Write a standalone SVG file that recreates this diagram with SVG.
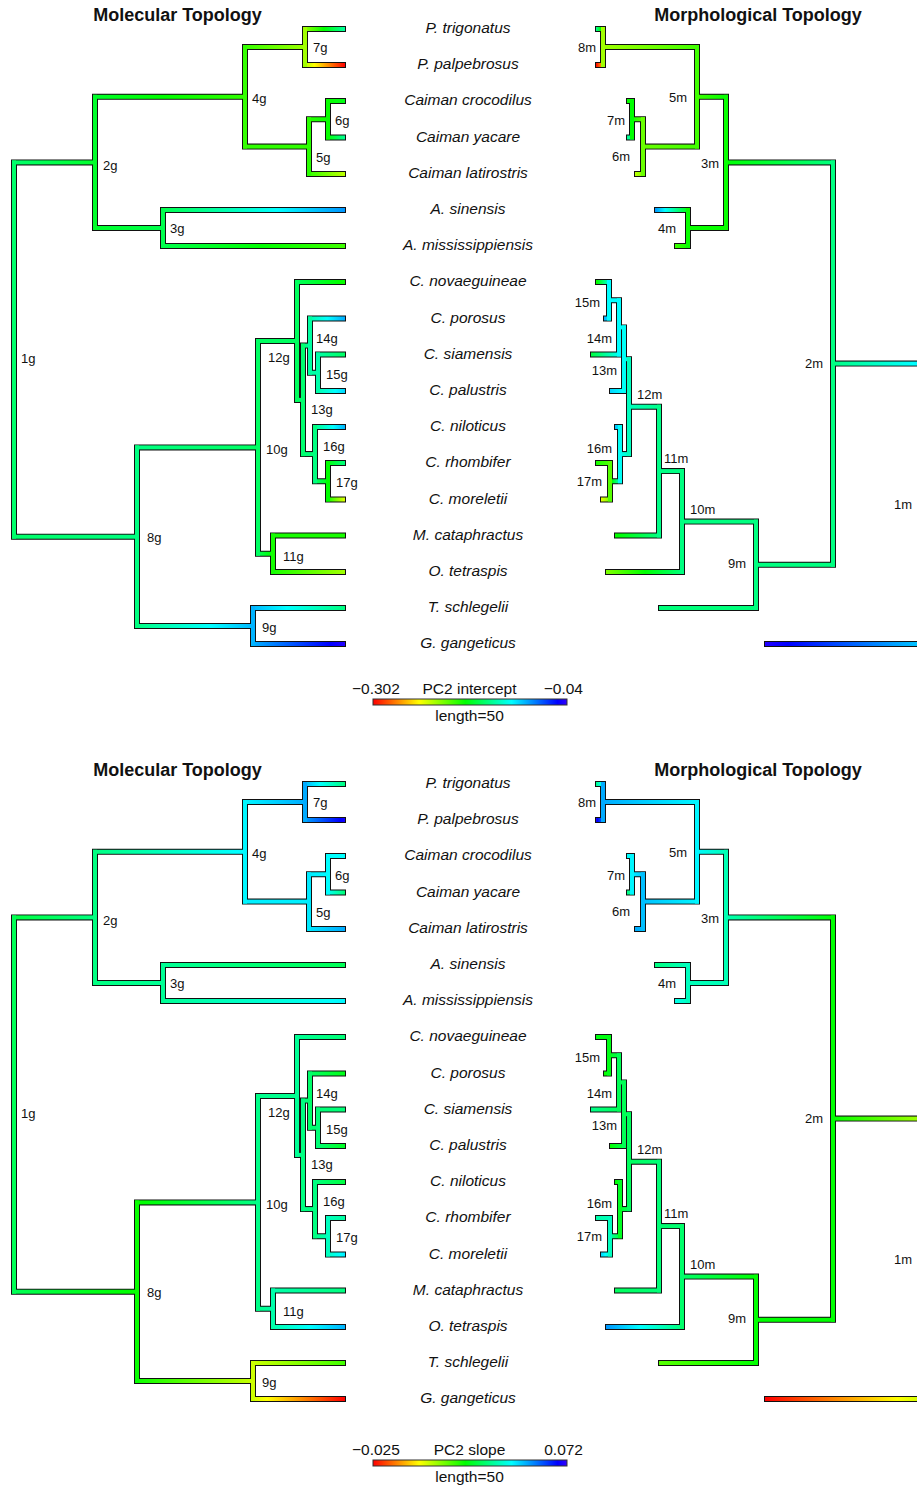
<svg xmlns="http://www.w3.org/2000/svg" xmlns:xlink="http://www.w3.org/1999/xlink" width="917" height="1487" viewBox="0 0 917 1487">
<style>
.o{fill:none;stroke:#111;stroke-width:6;stroke-linecap:square}
text{font-family:"Liberation Sans",Arial,Helvetica,sans-serif;fill:#111}
.sp{font-size:15.5px;font-style:italic;text-anchor:middle}
.nl{font-size:13px}
.ne{font-size:13px;text-anchor:end}
.ti{font-size:18px;font-weight:bold;text-anchor:middle}
.lg{font-size:15.5px}
.mid{text-anchor:middle}
.end{text-anchor:end}
</style>
<defs>
<linearGradient id="rb"><stop stop-color="#ff0000"/><stop offset=".238" stop-color="#ffff00"/><stop offset=".476" stop-color="#00ff00"/><stop offset=".714" stop-color="#00ffff"/><stop offset=".952" stop-color="#0000ff"/><stop offset="1" stop-color="#3300ff"/></linearGradient>
<linearGradient id="A1"><stop stop-color="#00ff6a"/><stop offset="1" stop-color="#00ff2a"/></linearGradient>
<linearGradient id="A2"><stop stop-color="#00ff2a"/><stop offset=".45" stop-color="#00ff00"/><stop offset="1" stop-color="#33ff00"/></linearGradient>
<linearGradient id="A3"><stop stop-color="#33ff00"/><stop offset="1" stop-color="#a1ff00"/></linearGradient>
<linearGradient id="A4"><stop stop-color="#a1ff00"/><stop offset=".5" stop-color="#00ff00"/><stop offset="1" stop-color="#00ffa1"/></linearGradient>
<linearGradient id="A5"><stop stop-color="#a1ff00"/><stop offset=".27" stop-color="#ffff00"/><stop offset="1" stop-color="#ff0000"/></linearGradient>
<linearGradient id="A7"><stop stop-color="#2aff00"/><stop offset="1" stop-color="#08ff00"/></linearGradient>
<linearGradient id="A8"><stop stop-color="#08ff00"/><stop offset="1" stop-color="#00ff15"/></linearGradient>
<linearGradient id="A9"><stop stop-color="#08ff00"/><stop offset=".05" stop-color="#00ff00"/><stop offset="1" stop-color="#00ff95"/></linearGradient>
<linearGradient id="A10"><stop stop-color="#2aff00"/><stop offset="1" stop-color="#bfff00"/></linearGradient>
<linearGradient id="A11"><stop stop-color="#00ff2a"/><stop offset="1" stop-color="#00ff4d"/></linearGradient>
<linearGradient id="A12"><stop stop-color="#00ff4d"/><stop offset=".63" stop-color="#00ffff"/><stop offset="1" stop-color="#0095ff"/></linearGradient>
<linearGradient id="A13"><stop stop-color="#00ff4d"/><stop offset=".55" stop-color="#00ff00"/><stop offset="1" stop-color="#40ff00"/></linearGradient>
<linearGradient id="A14"><stop stop-color="#00ff6a"/><stop offset="1" stop-color="#00ff80"/></linearGradient>
<linearGradient id="A15"><stop stop-color="#00ff80"/><stop offset="1" stop-color="#00ff62"/></linearGradient>
<linearGradient id="A17"><stop stop-color="#00ff5d"/><stop offset=".88" stop-color="#00ff00"/><stop offset="1" stop-color="#0dff00"/></linearGradient>
<linearGradient id="A19"><stop stop-color="#00ff6e"/><stop offset="1" stop-color="#00ffa1"/></linearGradient>
<linearGradient id="A20"><stop stop-color="#00ffa1"/><stop offset=".52" stop-color="#00ffff"/><stop offset="1" stop-color="#00aaff"/></linearGradient>
<linearGradient id="A22"><stop stop-color="#00ffaa"/><stop offset="1" stop-color="#00ff62"/></linearGradient>
<linearGradient id="A23"><stop stop-color="#00ffaa"/><stop offset=".67" stop-color="#00ffff"/><stop offset="1" stop-color="#00d5ff"/></linearGradient>
<linearGradient id="A25"><stop stop-color="#00ff80"/><stop offset=".63" stop-color="#00ffff"/><stop offset="1" stop-color="#00b3ff"/></linearGradient>
<linearGradient id="A26"><stop stop-color="#00ff80"/><stop offset="1" stop-color="#00ff00"/></linearGradient>
<linearGradient id="A27"><stop stop-color="#00ff00"/><stop offset="1" stop-color="#00ff80"/></linearGradient>
<linearGradient id="A28"><stop stop-color="#00ff00"/><stop offset="1" stop-color="#e1ff00"/></linearGradient>
<linearGradient id="A29"><stop stop-color="#00ff62"/><stop offset=".82" stop-color="#00ff00"/><stop offset="1" stop-color="#15ff00"/></linearGradient>
<linearGradient id="A31"><stop stop-color="#15ff00"/><stop offset="1" stop-color="#a1ff00"/></linearGradient>
<linearGradient id="A32"><stop stop-color="#00ff80"/><stop offset=".63" stop-color="#00ffff"/><stop offset="1" stop-color="#00b3ff"/></linearGradient>
<linearGradient id="A33"><stop stop-color="#00b3ff"/><stop offset=".38" stop-color="#00ffff"/><stop offset="1" stop-color="#00ff80"/></linearGradient>
<linearGradient id="A34"><stop stop-color="#00b3ff"/><stop offset=".84" stop-color="#0000ff"/><stop offset="1" stop-color="#2200ff"/></linearGradient>
<linearGradient id="B1"><stop stop-color="#00ff80"/><stop offset=".83" stop-color="#00ffff"/><stop offset="1" stop-color="#00e6ff"/></linearGradient>
<linearGradient id="B2"><stop stop-color="#2200ff"/><stop offset=".14" stop-color="#0000ff"/><stop offset="1" stop-color="#00d5ff"/></linearGradient>
<linearGradient id="B3"><stop stop-color="#00ff00"/><stop offset="1" stop-color="#00ff80"/></linearGradient>
<linearGradient id="B4"><stop stop-color="#40ff00"/><stop offset="1" stop-color="#00ff00"/></linearGradient>
<linearGradient id="B5"><stop stop-color="#a1ff00"/><stop offset="1" stop-color="#40ff00"/></linearGradient>
<linearGradient id="B6"><stop stop-color="#00ffa1"/><stop offset=".5" stop-color="#00ff00"/><stop offset="1" stop-color="#a1ff00"/></linearGradient>
<linearGradient id="B7"><stop stop-color="#ff0000"/><stop offset="1" stop-color="#ffff00"/></linearGradient>
<linearGradient id="B8"><stop stop-color="#6aff00"/><stop offset="1" stop-color="#40ff00"/></linearGradient>
<linearGradient id="B9"><stop stop-color="#00ff00"/><stop offset="1" stop-color="#6aff00"/></linearGradient>
<linearGradient id="B12"><stop stop-color="#bfff00"/><stop offset="1" stop-color="#6aff00"/></linearGradient>
<linearGradient id="B14"><stop stop-color="#0095ff"/><stop offset=".29" stop-color="#00ffff"/><stop offset="1" stop-color="#00ff00"/></linearGradient>
<linearGradient id="B15"><stop stop-color="#40ff00"/><stop offset="1" stop-color="#08ff00"/></linearGradient>
<linearGradient id="B19"><stop stop-color="#80ff00"/><stop offset=".5" stop-color="#00ff00"/><stop offset="1" stop-color="#00ff80"/></linearGradient>
<linearGradient id="B21"><stop stop-color="#08ff00"/><stop offset=".06" stop-color="#00ff00"/><stop offset="1" stop-color="#00ff88"/></linearGradient>
<linearGradient id="B22"><stop stop-color="#00ffbf"/><stop offset="1" stop-color="#00ff88"/></linearGradient>
<linearGradient id="B25"><stop stop-color="#00d5ff"/><stop offset=".83" stop-color="#00ffff"/><stop offset="1" stop-color="#00fff7"/></linearGradient>
<linearGradient id="B27"><stop stop-color="#00ff40"/><stop offset="1" stop-color="#00ffff"/></linearGradient>
<linearGradient id="B28"><stop stop-color="#15ff00"/><stop offset=".08" stop-color="#00ff00"/><stop offset="1" stop-color="#00ffff"/></linearGradient>
<linearGradient id="B29"><stop stop-color="#00aaff"/><stop offset="1" stop-color="#00ffff"/></linearGradient>
<linearGradient id="B30"><stop stop-color="#00fff7"/><stop offset="1" stop-color="#00ffbf"/></linearGradient>
<linearGradient id="B31"><stop stop-color="#00bfff"/><stop offset="1" stop-color="#00fff7"/></linearGradient>
<linearGradient id="B32"><stop stop-color="#55ff00"/><stop offset=".26" stop-color="#00ff00"/><stop offset="1" stop-color="#00fff7"/></linearGradient>
<linearGradient id="B33"><stop stop-color="#15ff00"/><stop offset="1" stop-color="#55ff00"/></linearGradient>
<linearGradient id="B34"><stop stop-color="#eaff00"/><stop offset="1" stop-color="#55ff00"/></linearGradient>
<linearGradient id="C1"><stop stop-color="#00ff40"/><stop offset="1" stop-color="#00ff80"/></linearGradient>
<linearGradient id="C2"><stop stop-color="#00ff80"/><stop offset=".94" stop-color="#00ffff"/><stop offset="1" stop-color="#00f7ff"/></linearGradient>
<linearGradient id="C3"><stop stop-color="#00f7ff"/><stop offset="1" stop-color="#00aaff"/></linearGradient>
<linearGradient id="C4"><stop stop-color="#00aaff"/><stop offset=".4" stop-color="#00ffff"/><stop offset="1" stop-color="#00ff80"/></linearGradient>
<linearGradient id="C5"><stop stop-color="#00aaff"/><stop offset=".89" stop-color="#0000ff"/><stop offset="1" stop-color="#1500ff"/></linearGradient>
<linearGradient id="C7"><stop stop-color="#00eaff"/><stop offset="1" stop-color="#00ffff"/></linearGradient>
<linearGradient id="C9"><stop stop-color="#00ffff"/><stop offset="1" stop-color="#00ff77"/></linearGradient>
<linearGradient id="C10"><stop stop-color="#00eaff"/><stop offset="1" stop-color="#00aaff"/></linearGradient>
<linearGradient id="C11"><stop stop-color="#00ff80"/><stop offset="1" stop-color="#00ff95"/></linearGradient>
<linearGradient id="C12"><stop stop-color="#00ff95"/><stop offset="1" stop-color="#00ff55"/></linearGradient>
<linearGradient id="C13"><stop stop-color="#00ff95"/><stop offset=".93" stop-color="#00ffff"/><stop offset="1" stop-color="#00f7ff"/></linearGradient>
<linearGradient id="C14"><stop stop-color="#00ff55"/><stop offset=".91" stop-color="#00ff00"/><stop offset="1" stop-color="#08ff00"/></linearGradient>
<linearGradient id="C15"><stop stop-color="#08ff00"/><stop offset=".06" stop-color="#00ff00"/><stop offset="1" stop-color="#00ff88"/></linearGradient>
<linearGradient id="C17"><stop stop-color="#00ff95"/><stop offset="1" stop-color="#00ff77"/></linearGradient>
<linearGradient id="C19"><stop stop-color="#00ff80"/><stop offset="1" stop-color="#00ff6a"/></linearGradient>
<linearGradient id="C20"><stop stop-color="#00ff6a"/><stop offset="1" stop-color="#00ff15"/></linearGradient>
<linearGradient id="C23"><stop stop-color="#00ff77"/><stop offset="1" stop-color="#00ff22"/></linearGradient>
<linearGradient id="C25"><stop stop-color="#00ff80"/><stop offset="1" stop-color="#00ff40"/></linearGradient>
<linearGradient id="C26"><stop stop-color="#00ff80"/><stop offset="1" stop-color="#00ffbf"/></linearGradient>
<linearGradient id="C27"><stop stop-color="#00ffbf"/><stop offset="1" stop-color="#00ffa1"/></linearGradient>
<linearGradient id="C28"><stop stop-color="#00ffbf"/><stop offset=".75" stop-color="#00ffff"/><stop offset="1" stop-color="#00eaff"/></linearGradient>
<linearGradient id="C29"><stop stop-color="#00ff88"/><stop offset="1" stop-color="#00ffaa"/></linearGradient>
<linearGradient id="C30"><stop stop-color="#00ffaa"/><stop offset="1" stop-color="#00ff80"/></linearGradient>
<linearGradient id="C31"><stop stop-color="#00ffaa"/><stop offset=".53" stop-color="#00ffff"/><stop offset="1" stop-color="#00b3ff"/></linearGradient>
<linearGradient id="C32"><stop stop-color="#08ff00"/><stop offset="1" stop-color="#ccff00"/></linearGradient>
<linearGradient id="C33"><stop stop-color="#ccff00"/><stop offset="1" stop-color="#40ff00"/></linearGradient>
<linearGradient id="C34"><stop stop-color="#ccff00"/><stop offset=".17" stop-color="#ffff00"/><stop offset="1" stop-color="#ff0000"/></linearGradient>
<linearGradient id="D1"><stop stop-color="#00ff00"/><stop offset="1" stop-color="#b3ff00"/></linearGradient>
<linearGradient id="D2"><stop stop-color="#ff0000"/><stop offset=".8" stop-color="#ffff00"/><stop offset="1" stop-color="#bfff00"/></linearGradient>
<linearGradient id="D3"><stop stop-color="#00ffb3"/><stop offset="1" stop-color="#00ff00"/></linearGradient>
<linearGradient id="D4"><stop stop-color="#00f7ff"/><stop offset="1" stop-color="#00ffb3"/></linearGradient>
<linearGradient id="D5"><stop stop-color="#00aaff"/><stop offset="1" stop-color="#00f7ff"/></linearGradient>
<linearGradient id="D6"><stop stop-color="#00ff80"/><stop offset=".6" stop-color="#00ffff"/><stop offset="1" stop-color="#00aaff"/></linearGradient>
<linearGradient id="D7"><stop stop-color="#2200ff"/><stop offset=".17" stop-color="#0000ff"/><stop offset="1" stop-color="#00aaff"/></linearGradient>
<linearGradient id="D8"><stop stop-color="#00bfff"/><stop offset="1" stop-color="#00f7ff"/></linearGradient>
<linearGradient id="D9"><stop stop-color="#00f7ff"/><stop offset="1" stop-color="#00bfff"/></linearGradient>
<linearGradient id="D12"><stop stop-color="#00aaff"/><stop offset="1" stop-color="#00bfff"/></linearGradient>
<linearGradient id="D14"><stop stop-color="#00ff80"/><stop offset="1" stop-color="#00ffbf"/></linearGradient>
<linearGradient id="D15"><stop stop-color="#00ffea"/><stop offset="1" stop-color="#00ffbf"/></linearGradient>
<linearGradient id="D17"><stop stop-color="#55ff00"/><stop offset="1" stop-color="#00ff00"/></linearGradient>
<linearGradient id="D18"><stop stop-color="#00ff6a"/><stop offset="1" stop-color="#00ff00"/></linearGradient>
<linearGradient id="D19"><stop stop-color="#0095ff"/><stop offset=".44" stop-color="#00ffff"/><stop offset="1" stop-color="#00ff77"/></linearGradient>
<linearGradient id="D21"><stop stop-color="#00ff5d"/><stop offset="1" stop-color="#00ff77"/></linearGradient>
<linearGradient id="D25"><stop stop-color="#00ff00"/><stop offset="1" stop-color="#00ff55"/></linearGradient>
<linearGradient id="D26"><stop stop-color="#00ff15"/><stop offset="1" stop-color="#00ff55"/></linearGradient>
<linearGradient id="D27"><stop stop-color="#00ff88"/><stop offset="1" stop-color="#00ff55"/></linearGradient>
<linearGradient id="D29"><stop stop-color="#08ff00"/><stop offset="1" stop-color="#00ff15"/></linearGradient>
<linearGradient id="D30"><stop stop-color="#00ff22"/><stop offset="1" stop-color="#00ff5d"/></linearGradient>
<linearGradient id="D31"><stop stop-color="#00ff00"/><stop offset="1" stop-color="#00ff22"/></linearGradient>
<linearGradient id="D32"><stop stop-color="#00ffbf"/><stop offset="1" stop-color="#00ff22"/></linearGradient>
<linearGradient id="D33"><stop stop-color="#00ffaa"/><stop offset="1" stop-color="#00ffbf"/></linearGradient>
<linearGradient id="D34"><stop stop-color="#00d5ff"/><stop offset=".4" stop-color="#00ffff"/><stop offset="1" stop-color="#00ffbf"/></linearGradient>
<path id="molOut" class="o" d="M14 162.4H95M95 96.8H245M245 47H305M305 29H343M305 65H343M245 146.6H309M309 119.25H328M328 101H343M328 137.5H343M309 174H343M95 228H163M163 210H343M163 246H343M14 536.7H137M137 447.4H258M258 341H297M297 282H343M297 399.9H303M303 345.6H310M310 318.5H343M310 372.75H318M318 354.5H343M318 391H343M303 454.1H315M315 427H343M315 481.25H328M328 463H343M328 499.5H343M258 553.75H273M273 535.5H343M273 572H343M137 626H253M253 608H343M253 644H343M14 162.4V536.7M95 96.8V228M245 47V146.6M305 29V65M309 119.25V174M328 101V137.5M163 210V246M137 447.4V626M258 341V553.75M297 282V399.9M303 345.6V454.1M310 318.5V372.75M318 354.5V391M315 427V481.25M328 463V499.5M273 535.5V572M253 608V644"/>
<path id="morOut" class="o" d="M833 363.6H930M767 644H930M726 162.4H833M697 96.8H726M603 47H697M598 29H603M598 65H603M643 146.6H697M632 119.25H643M629 101H632M629 137.5H632M637 174H643M688 228H726M657 210H688M677 246H688M756 564.8H833M661 608H756M682 521.6H756M608 572H682M659 471.1H682M617 535.5H659M629 406.7H659M624 359.2H629M619 327.4H624M612 391H624M609 300.25H619M593 354.5H619M598 282H609M606 318.5H609M620 454.1H629M617 427H620M610 481.25H620M598 463H610M603 499.5H610M603 29V65M697 47V146.6M632 101V137.5M643 119.25V174M726 96.8V228M688 210V246M833 162.4V564.8M609 282V318.5M619 300.25V354.5M624 327.4V391M629 359.2V454.1M620 427V481.25M610 463V499.5M659 406.7V535.5M682 471.1V572M756 521.6V608"/>
</defs>
<rect width="917" height="1487" fill="#fff"/>

<g id="top-panel">
<text class="ti" x="177.5" y="20.5">Molecular Topology</text>
<text class="ti" x="758" y="20.5">Morphological Topology</text>

<g id="top-mol-connectors">
<use href="#molOut"/>
<rect x="12" y="160.4" width="85" height="4" fill="url(#A1)"/>
<rect x="93" y="94.8" width="154" height="4" fill="url(#A2)"/>
<rect x="243" y="45" width="64" height="4" fill="url(#A3)"/>
<rect x="303" y="27" width="42" height="4" fill="url(#A4)"/>
<rect x="303" y="63" width="42" height="4" fill="url(#A5)"/>
<rect x="243" y="144.6" width="68" height="4" fill="#30ff00"/>
<rect x="307" y="117.25" width="23" height="4" fill="url(#A7)"/>
<rect x="326" y="99" width="19" height="4" fill="url(#A8)"/>
<rect x="326" y="135.5" width="19" height="4" fill="url(#A9)"/>
<rect x="307" y="172" width="38" height="4" fill="url(#A10)"/>
<rect x="93" y="226" width="72" height="4" fill="url(#A11)"/>
<rect x="161" y="208" width="184" height="4" fill="url(#A12)"/>
<rect x="161" y="244" width="184" height="4" fill="url(#A13)"/>
<rect x="12" y="534.7" width="127" height="4" fill="url(#A14)"/>
<rect x="135" y="445.4" width="125" height="4" fill="url(#A15)"/>
<rect x="256" y="339" width="43" height="4" fill="#00ff60"/>
<rect x="295" y="280" width="50" height="4" fill="url(#A17)"/>
<rect x="295" y="397.9" width="10" height="4" fill="#00ff66"/>
<rect x="301" y="343.6" width="11" height="4" fill="url(#A19)"/>
<rect x="308" y="316.5" width="37" height="4" fill="url(#A20)"/>
<rect x="308" y="370.75" width="12" height="4" fill="#00ffa5"/>
<rect x="316" y="352.5" width="29" height="4" fill="url(#A22)"/>
<rect x="316" y="389" width="29" height="4" fill="url(#A23)"/>
<rect x="301" y="452.1" width="16" height="4" fill="#00ff77"/>
<rect x="313" y="425" width="32" height="4" fill="url(#A25)"/>
<rect x="313" y="479.25" width="17" height="4" fill="url(#A26)"/>
<rect x="326" y="461" width="19" height="4" fill="url(#A27)"/>
<rect x="326" y="497.5" width="19" height="4" fill="url(#A28)"/>
<rect x="256" y="551.75" width="19" height="4" fill="url(#A29)"/>
<rect x="271" y="533.5" width="74" height="4" fill="#18ff00"/>
<rect x="271" y="570" width="74" height="4" fill="url(#A31)"/>
<rect x="135" y="624" width="120" height="4" fill="url(#A32)"/>
<rect x="251" y="606" width="94" height="4" fill="url(#A33)"/>
<rect x="251" y="642" width="94" height="4" fill="url(#A34)"/>
<rect x="12" y="160.4" width="4" height="378.3" fill="#00ff6a"/>
<rect x="93" y="94.8" width="4" height="135.2" fill="#00ff2a"/>
<rect x="243" y="45" width="4" height="103.6" fill="#33ff00"/>
<rect x="303" y="27" width="4" height="40" fill="#a1ff00"/>
<rect x="307" y="117.25" width="4" height="58.75" fill="#2aff00"/>
<rect x="326" y="99" width="4" height="40.5" fill="#08ff00"/>
<rect x="161" y="208" width="4" height="40" fill="#00ff4d"/>
<rect x="135" y="445.4" width="4" height="182.6" fill="#00ff80"/>
<rect x="256" y="339" width="4" height="216.75" fill="#00ff62"/>
<rect x="295" y="280" width="4" height="121.9" fill="#00ff5d"/>
<rect x="301" y="343.6" width="4" height="112.5" fill="#00ff6e"/>
<rect x="308" y="316.5" width="4" height="58.25" fill="#00ffa1"/>
<rect x="316" y="352.5" width="4" height="40.5" fill="#00ffaa"/>
<rect x="313" y="425" width="4" height="58.25" fill="#00ff80"/>
<rect x="326" y="461" width="4" height="40.5" fill="#00ff00"/>
<rect x="271" y="533.5" width="4" height="40.5" fill="#15ff00"/>
<rect x="251" y="606" width="4" height="40" fill="#00b3ff"/>
</g>

<g id="top-mol-nodes">
<text class="nl" x="313" y="51.7">7g</text>
<text class="nl" x="252" y="102.7">4g</text>
<text class="nl" x="335" y="124.7">6g</text>
<text class="nl" x="316" y="161.7">5g</text>
<text class="nl" x="103" y="169.7">2g</text>
<text class="nl" x="170" y="233.2">3g</text>
<text class="nl" x="21" y="362.7">1g</text>
<text class="nl" x="316" y="342.7">14g</text>
<text class="nl" x="268" y="361.7">12g</text>
<text class="nl" x="326" y="379.2">15g</text>
<text class="nl" x="311" y="413.7">13g</text>
<text class="nl" x="266" y="453.7">10g</text>
<text class="nl" x="323" y="450.7">16g</text>
<text class="nl" x="336" y="486.7">17g</text>
<text class="nl" x="147" y="541.7">8g</text>
<text class="nl" x="283" y="560.7">11g</text>
<text class="nl" x="262" y="631.7">9g</text>
</g>

<g id="top-mor-connectors">
<use href="#morOut"/>
<rect x="831" y="361.6" width="99" height="4" fill="url(#B1)"/>
<rect x="765" y="642" width="165" height="4" fill="url(#B2)"/>
<rect x="724" y="160.4" width="111" height="4" fill="url(#B3)"/>
<rect x="695" y="94.8" width="33" height="4" fill="url(#B4)"/>
<rect x="601" y="45" width="98" height="4" fill="url(#B5)"/>
<rect x="596" y="27" width="9" height="4" fill="url(#B6)"/>
<rect x="596" y="63" width="9" height="4" fill="url(#B7)"/>
<rect x="641" y="144.6" width="58" height="4" fill="url(#B8)"/>
<rect x="630" y="117.25" width="15" height="4" fill="url(#B9)"/>
<rect x="627" y="99" width="7" height="4" fill="#08ff00"/>
<rect x="627" y="135.5" width="7" height="4" fill="#00ff95"/>
<rect x="635" y="172" width="10" height="4" fill="url(#B12)"/>
<rect x="686" y="226" width="42" height="4" fill="#08ff00"/>
<rect x="655" y="208" width="35" height="4" fill="url(#B14)"/>
<rect x="675" y="244" width="15" height="4" fill="url(#B15)"/>
<rect x="754" y="562.8" width="81" height="4" fill="#00ff80"/>
<rect x="659" y="606" width="99" height="4" fill="#00ff7a"/>
<rect x="680" y="519.6" width="78" height="4" fill="#00ff80"/>
<rect x="606" y="570" width="78" height="4" fill="url(#B19)"/>
<rect x="657" y="469.1" width="27" height="4" fill="#00ff84"/>
<rect x="615" y="533.5" width="46" height="4" fill="url(#B21)"/>
<rect x="627" y="404.7" width="34" height="4" fill="url(#B22)"/>
<rect x="622" y="357.2" width="9" height="4" fill="#00ffd5"/>
<rect x="617" y="325.4" width="9" height="4" fill="#00fffb"/>
<rect x="610" y="389" width="16" height="4" fill="url(#B25)"/>
<rect x="607" y="298.25" width="14" height="4" fill="#00ffff"/>
<rect x="591" y="352.5" width="30" height="4" fill="url(#B27)"/>
<rect x="596" y="280" width="15" height="4" fill="url(#B28)"/>
<rect x="604" y="316.5" width="7" height="4" fill="url(#B29)"/>
<rect x="618" y="452.1" width="13" height="4" fill="url(#B30)"/>
<rect x="615" y="425" width="7" height="4" fill="url(#B31)"/>
<rect x="608" y="479.25" width="14" height="4" fill="url(#B32)"/>
<rect x="596" y="461" width="16" height="4" fill="url(#B33)"/>
<rect x="601" y="497.5" width="11" height="4" fill="url(#B34)"/>
<rect x="601" y="27" width="4" height="40" fill="#a1ff00"/>
<rect x="695" y="45" width="4" height="103.6" fill="#40ff00"/>
<rect x="630" y="99" width="4" height="40.5" fill="#00ff00"/>
<rect x="641" y="117.25" width="4" height="58.75" fill="#6aff00"/>
<rect x="724" y="94.8" width="4" height="135.2" fill="#08ff00"/>
<rect x="686" y="208" width="4" height="40" fill="#08ff00"/>
<rect x="831" y="160.4" width="4" height="406.4" fill="#00ff80"/>
<rect x="607" y="280" width="4" height="40.5" fill="#00ffff"/>
<rect x="617" y="298.25" width="4" height="58.25" fill="#00ffff"/>
<rect x="622" y="325.4" width="4" height="67.6" fill="#00fff7"/>
<rect x="627" y="357.2" width="4" height="98.9" fill="#00ffbf"/>
<rect x="618" y="425" width="4" height="58.25" fill="#00fff7"/>
<rect x="608" y="461" width="4" height="40.5" fill="#55ff00"/>
<rect x="657" y="404.7" width="4" height="132.8" fill="#00ff88"/>
<rect x="680" y="469.1" width="4" height="104.9" fill="#00ff80"/>
<rect x="754" y="519.6" width="4" height="90.4" fill="#00ff80"/>
</g>

<g id="top-mor-nodes">
<text class="ne" x="596" y="51.7">8m</text>
<text class="ne" x="687" y="102.2">5m</text>
<text class="ne" x="625" y="124.7">7m</text>
<text class="ne" x="630" y="160.7">6m</text>
<text class="ne" x="719" y="167.7">3m</text>
<text class="ne" x="676" y="232.7">4m</text>
<text class="ne" x="600" y="306.7">15m</text>
<text class="ne" x="612" y="342.7">14m</text>
<text class="ne" x="617" y="374.7">13m</text>
<text class="nl" x="637" y="398.7">12m</text>
<text class="ne" x="612" y="452.7">16m</text>
<text class="ne" x="602" y="485.7">17m</text>
<text class="nl" x="664" y="462.7">11m</text>
<text class="nl" x="690" y="513.7">10m</text>
<text class="ne" x="746" y="567.7">9m</text>
<text class="ne" x="823" y="367.7">2m</text>
<text class="nl" x="894" y="508.7">1m</text>
</g>

<g id="top-species">
<text class="sp" x="468" y="33">P. trigonatus</text>
<text class="sp" x="468" y="69">P. palpebrosus</text>
<text class="sp" x="468" y="105">Caiman crocodilus</text>
<text class="sp" x="468" y="141.5">Caiman yacare</text>
<text class="sp" x="468" y="178">Caiman latirostris</text>
<text class="sp" x="468" y="214">A. sinensis</text>
<text class="sp" x="468" y="250">A. mississippiensis</text>
<text class="sp" x="468" y="286">C. novaeguineae</text>
<text class="sp" x="468" y="322.5">C. porosus</text>
<text class="sp" x="468" y="358.5">C. siamensis</text>
<text class="sp" x="468" y="395">C. palustris</text>
<text class="sp" x="468" y="431">C. niloticus</text>
<text class="sp" x="468" y="467">C. rhombifer</text>
<text class="sp" x="468" y="503.5">C. moreletii</text>
<text class="sp" x="468" y="539.5">M. cataphractus</text>
<text class="sp" x="468" y="576">O. tetraspis</text>
<text class="sp" x="468" y="612">T. schlegelii</text>
<text class="sp" x="468" y="648">G. gangeticus</text>
</g>

<g id="top-legend">
<text class="lg" x="352" y="693.5">−0.302</text>
<text class="lg mid" x="469.5" y="693.5">PC2 intercept</text>
<text class="lg end" x="583" y="693.5">−0.04</text>
<rect x="373" y="699" width="194" height="6" fill="url(#rb)" stroke="#333" stroke-width="1"/>
<text class="lg mid" x="469.5" y="721">length=50</text>
</g>
</g>

<g id="bottom-panel">
<text class="ti" x="177.5" y="775.5">Molecular Topology</text>
<text class="ti" x="758" y="775.5">Morphological Topology</text>
<g transform="translate(0,755)">
<g id="bot-mol-connectors">
<use href="#molOut"/>
<rect x="12" y="160.4" width="85" height="4" fill="url(#C1)"/>
<rect x="93" y="94.8" width="154" height="4" fill="url(#C2)"/>
<rect x="243" y="45" width="64" height="4" fill="url(#C3)"/>
<rect x="303" y="27" width="42" height="4" fill="url(#C4)"/>
<rect x="303" y="63" width="42" height="4" fill="url(#C5)"/>
<rect x="243" y="144.6" width="68" height="4" fill="#00f0ff"/>
<rect x="307" y="117.25" width="23" height="4" fill="url(#C7)"/>
<rect x="326" y="99" width="19" height="4" fill="#00ffff"/>
<rect x="326" y="135.5" width="19" height="4" fill="url(#C9)"/>
<rect x="307" y="172" width="38" height="4" fill="url(#C10)"/>
<rect x="93" y="226" width="72" height="4" fill="url(#C11)"/>
<rect x="161" y="208" width="184" height="4" fill="url(#C12)"/>
<rect x="161" y="244" width="184" height="4" fill="url(#C13)"/>
<rect x="12" y="534.7" width="127" height="4" fill="url(#C14)"/>
<rect x="135" y="445.4" width="125" height="4" fill="url(#C15)"/>
<rect x="256" y="339" width="43" height="4" fill="#00ff8e"/>
<rect x="295" y="280" width="50" height="4" fill="url(#C17)"/>
<rect x="295" y="397.9" width="10" height="4" fill="#00ff8a"/>
<rect x="301" y="343.6" width="11" height="4" fill="url(#C19)"/>
<rect x="308" y="316.5" width="37" height="4" fill="url(#C20)"/>
<rect x="308" y="370.75" width="12" height="4" fill="#00ff70"/>
<rect x="316" y="352.5" width="29" height="4" fill="#00ff77"/>
<rect x="316" y="389" width="29" height="4" fill="url(#C23)"/>
<rect x="301" y="452.1" width="16" height="4" fill="#00ff80"/>
<rect x="313" y="425" width="32" height="4" fill="url(#C25)"/>
<rect x="313" y="479.25" width="17" height="4" fill="url(#C26)"/>
<rect x="326" y="461" width="19" height="4" fill="url(#C27)"/>
<rect x="326" y="497.5" width="19" height="4" fill="url(#C28)"/>
<rect x="256" y="551.75" width="19" height="4" fill="url(#C29)"/>
<rect x="271" y="533.5" width="74" height="4" fill="url(#C30)"/>
<rect x="271" y="570" width="74" height="4" fill="url(#C31)"/>
<rect x="135" y="624" width="120" height="4" fill="url(#C32)"/>
<rect x="251" y="606" width="94" height="4" fill="url(#C33)"/>
<rect x="251" y="642" width="94" height="4" fill="url(#C34)"/>
<rect x="12" y="160.4" width="4" height="378.3" fill="#00ff55"/>
<rect x="93" y="94.8" width="4" height="135.2" fill="#00ff80"/>
<rect x="243" y="45" width="4" height="103.6" fill="#00f7ff"/>
<rect x="303" y="27" width="4" height="40" fill="#00aaff"/>
<rect x="307" y="117.25" width="4" height="58.75" fill="#00eaff"/>
<rect x="326" y="99" width="4" height="40.5" fill="#00ffff"/>
<rect x="161" y="208" width="4" height="40" fill="#00ff95"/>
<rect x="135" y="445.4" width="4" height="182.6" fill="#08ff00"/>
<rect x="256" y="339" width="4" height="216.75" fill="#00ff88"/>
<rect x="295" y="280" width="4" height="121.9" fill="#00ff95"/>
<rect x="301" y="343.6" width="4" height="112.5" fill="#00ff80"/>
<rect x="308" y="316.5" width="4" height="58.25" fill="#00ff6a"/>
<rect x="316" y="352.5" width="4" height="40.5" fill="#00ff77"/>
<rect x="313" y="425" width="4" height="58.25" fill="#00ff80"/>
<rect x="326" y="461" width="4" height="40.5" fill="#00ffbf"/>
<rect x="271" y="533.5" width="4" height="40.5" fill="#00ffaa"/>
<rect x="251" y="606" width="4" height="40" fill="#ccff00"/>
</g>

<g id="bot-mol-nodes">
<text class="nl" x="313" y="51.7">7g</text>
<text class="nl" x="252" y="102.7">4g</text>
<text class="nl" x="335" y="124.7">6g</text>
<text class="nl" x="316" y="161.7">5g</text>
<text class="nl" x="103" y="169.7">2g</text>
<text class="nl" x="170" y="233.2">3g</text>
<text class="nl" x="21" y="362.7">1g</text>
<text class="nl" x="316" y="342.7">14g</text>
<text class="nl" x="268" y="361.7">12g</text>
<text class="nl" x="326" y="379.2">15g</text>
<text class="nl" x="311" y="413.7">13g</text>
<text class="nl" x="266" y="453.7">10g</text>
<text class="nl" x="323" y="450.7">16g</text>
<text class="nl" x="336" y="486.7">17g</text>
<text class="nl" x="147" y="541.7">8g</text>
<text class="nl" x="283" y="560.7">11g</text>
<text class="nl" x="262" y="631.7">9g</text>
</g>

<g id="bot-mor-connectors">
<use href="#morOut"/>
<rect x="831" y="361.6" width="99" height="4" fill="url(#D1)"/>
<rect x="765" y="642" width="165" height="4" fill="url(#D2)"/>
<rect x="724" y="160.4" width="111" height="4" fill="url(#D3)"/>
<rect x="695" y="94.8" width="33" height="4" fill="url(#D4)"/>
<rect x="601" y="45" width="98" height="4" fill="url(#D5)"/>
<rect x="596" y="27" width="9" height="4" fill="url(#D6)"/>
<rect x="596" y="63" width="9" height="4" fill="url(#D7)"/>
<rect x="641" y="144.6" width="58" height="4" fill="url(#D8)"/>
<rect x="630" y="117.25" width="15" height="4" fill="url(#D9)"/>
<rect x="627" y="99" width="7" height="4" fill="#00ffff"/>
<rect x="627" y="135.5" width="7" height="4" fill="#00ff88"/>
<rect x="635" y="172" width="10" height="4" fill="url(#D12)"/>
<rect x="686" y="226" width="42" height="4" fill="#00ffb8"/>
<rect x="655" y="208" width="35" height="4" fill="url(#D14)"/>
<rect x="675" y="244" width="15" height="4" fill="url(#D15)"/>
<rect x="754" y="562.8" width="81" height="4" fill="#00ff00"/>
<rect x="659" y="606" width="99" height="4" fill="url(#D17)"/>
<rect x="680" y="519.6" width="78" height="4" fill="url(#D18)"/>
<rect x="606" y="570" width="78" height="4" fill="url(#D19)"/>
<rect x="657" y="469.1" width="27" height="4" fill="#00ff70"/>
<rect x="615" y="533.5" width="46" height="4" fill="url(#D21)"/>
<rect x="627" y="404.7" width="34" height="4" fill="url(#D21)"/>
<rect x="622" y="357.2" width="9" height="4" fill="#00ff58"/>
<rect x="617" y="325.4" width="9" height="4" fill="#00ff55"/>
<rect x="610" y="389" width="16" height="4" fill="url(#D25)"/>
<rect x="607" y="298.25" width="14" height="4" fill="url(#D26)"/>
<rect x="591" y="352.5" width="30" height="4" fill="url(#D27)"/>
<rect x="596" y="280" width="15" height="4" fill="#00ff10"/>
<rect x="604" y="316.5" width="7" height="4" fill="url(#D29)"/>
<rect x="618" y="452.1" width="13" height="4" fill="url(#D30)"/>
<rect x="615" y="425" width="7" height="4" fill="url(#D31)"/>
<rect x="608" y="479.25" width="14" height="4" fill="url(#D32)"/>
<rect x="596" y="461" width="16" height="4" fill="url(#D33)"/>
<rect x="601" y="497.5" width="11" height="4" fill="url(#D34)"/>
<rect x="601" y="27" width="4" height="40" fill="#00aaff"/>
<rect x="695" y="45" width="4" height="103.6" fill="#00f7ff"/>
<rect x="630" y="99" width="4" height="40.5" fill="#00f7ff"/>
<rect x="641" y="117.25" width="4" height="58.75" fill="#00bfff"/>
<rect x="724" y="94.8" width="4" height="135.2" fill="#00ffb3"/>
<rect x="686" y="208" width="4" height="40" fill="#00ffbf"/>
<rect x="831" y="160.4" width="4" height="406.4" fill="#00ff00"/>
<rect x="607" y="280" width="4" height="40.5" fill="#00ff15"/>
<rect x="617" y="298.25" width="4" height="58.25" fill="#00ff55"/>
<rect x="622" y="325.4" width="4" height="67.6" fill="#00ff55"/>
<rect x="627" y="357.2" width="4" height="98.9" fill="#00ff5d"/>
<rect x="618" y="425" width="4" height="58.25" fill="#00ff22"/>
<rect x="608" y="461" width="4" height="40.5" fill="#00ffbf"/>
<rect x="657" y="404.7" width="4" height="132.8" fill="#00ff77"/>
<rect x="680" y="469.1" width="4" height="104.9" fill="#00ff6a"/>
<rect x="754" y="519.6" width="4" height="90.4" fill="#00ff00"/>
</g>

<g id="bot-mor-nodes">
<text class="ne" x="596" y="51.7">8m</text>
<text class="ne" x="687" y="102.2">5m</text>
<text class="ne" x="625" y="124.7">7m</text>
<text class="ne" x="630" y="160.7">6m</text>
<text class="ne" x="719" y="167.7">3m</text>
<text class="ne" x="676" y="232.7">4m</text>
<text class="ne" x="600" y="306.7">15m</text>
<text class="ne" x="612" y="342.7">14m</text>
<text class="ne" x="617" y="374.7">13m</text>
<text class="nl" x="637" y="398.7">12m</text>
<text class="ne" x="612" y="452.7">16m</text>
<text class="ne" x="602" y="485.7">17m</text>
<text class="nl" x="664" y="462.7">11m</text>
<text class="nl" x="690" y="513.7">10m</text>
<text class="ne" x="746" y="567.7">9m</text>
<text class="ne" x="823" y="367.7">2m</text>
<text class="nl" x="894" y="508.7">1m</text>
</g>

<g id="bot-species">
<text class="sp" x="468" y="33">P. trigonatus</text>
<text class="sp" x="468" y="69">P. palpebrosus</text>
<text class="sp" x="468" y="105">Caiman crocodilus</text>
<text class="sp" x="468" y="141.5">Caiman yacare</text>
<text class="sp" x="468" y="178">Caiman latirostris</text>
<text class="sp" x="468" y="214">A. sinensis</text>
<text class="sp" x="468" y="250">A. mississippiensis</text>
<text class="sp" x="468" y="286">C. novaeguineae</text>
<text class="sp" x="468" y="322.5">C. porosus</text>
<text class="sp" x="468" y="358.5">C. siamensis</text>
<text class="sp" x="468" y="395">C. palustris</text>
<text class="sp" x="468" y="431">C. niloticus</text>
<text class="sp" x="468" y="467">C. rhombifer</text>
<text class="sp" x="468" y="503.5">C. moreletii</text>
<text class="sp" x="468" y="539.5">M. cataphractus</text>
<text class="sp" x="468" y="576">O. tetraspis</text>
<text class="sp" x="468" y="612">T. schlegelii</text>
<text class="sp" x="468" y="648">G. gangeticus</text>
</g>
</g>

<g id="bot-legend" transform="translate(0,761)">
<text class="lg" x="352" y="693.5">−0.025</text>
<text class="lg mid" x="469.5" y="693.5">PC2 slope</text>
<text class="lg end" x="583" y="693.5">0.072</text>
<rect x="373" y="699" width="194" height="6" fill="url(#rb)" stroke="#333" stroke-width="1"/>
<text class="lg mid" x="469.5" y="721">length=50</text>
</g>
</g>
</svg>
